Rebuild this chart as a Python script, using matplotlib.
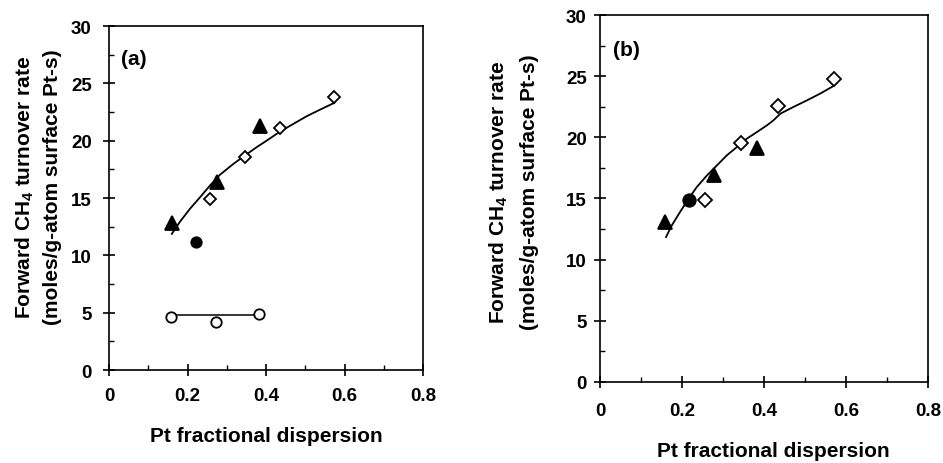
import matplotlib
matplotlib.use("Agg")
import matplotlib.pyplot as plt
from matplotlib.ticker import MultipleLocator

plt.rcParams['font.family'] = ['Liberation Sans', 'DejaVu Sans']
plt.rcParams['font.weight'] = 'bold'
plt.rcParams['mathtext.fontset'] = 'custom'
plt.rcParams['mathtext.rm'] = 'Liberation Sans:bold'
plt.rcParams['mathtext.bf'] = 'Liberation Sans:bold'

# panel (a)
a_tri_x = [0.16, 0.274, 0.385]
a_tri_y = [12.8, 16.4, 21.3]
a_dia_x = [0.257, 0.346, 0.436, 0.574]
a_dia_y = [14.9, 18.55, 21.1, 23.8]
a_dot_x = [0.221]
a_dot_y = [11.2]
a_open_x = [0.158, 0.273, 0.383]
a_open_y = [4.6, 4.16, 4.89]
a_flat_x = [0.16, 0.38]
a_flat_y = [4.8, 4.8]
a_fit_x = [0.160, 0.181, 0.206, 0.232, 0.257, 0.283, 0.317, 0.346, 0.376,
           0.402, 0.436, 0.470, 0.504, 0.538, 0.574]
a_fit_y = [11.87, 12.94, 14.05, 15.07, 16.08, 17.04, 17.98, 18.70, 19.43,
           20.01, 20.80, 21.47, 22.14, 22.71, 23.30]

# panel (b)
b_tri_x = [0.159, 0.277, 0.383]
b_tri_y = [13.1, 16.9, 19.1]
b_dia_x = [0.256, 0.344, 0.434, 0.570]
b_dia_y = [14.84, 19.56, 22.57, 24.8]
b_dot_x = [0.217]
b_dot_y = [14.84]
b_fit_x = [0.161, 0.175, 0.195, 0.216, 0.236, 0.261, 0.285, 0.309, 0.334,
           0.358, 0.383, 0.407, 0.423, 0.440, 0.472, 0.505, 0.537, 0.570]
b_fit_y = [11.84, 12.79, 13.88, 14.98, 15.93, 16.89, 17.70, 18.52, 19.21,
           19.89, 20.44, 20.98, 21.39, 21.94, 22.49, 23.03, 23.58, 24.21]

ylab = 'Forward CH$_\\mathbf{4}$ turnover rate\n(moles/g-atom surface Pt-s)'
xlab = 'Pt fractional dispersion'

fig = plt.figure(figsize=(9.43, 4.64), dpi=100)
ax1 = fig.add_axes([0.1156, 0.2004, 0.333, 0.7414])
ax2 = fig.add_axes([0.6363, 0.1752, 0.3478, 0.790])


def style(ax, xpad, ypad):
    ax.set_xlim(0, 0.8)
    ax.set_ylim(0, 30)
    ax.xaxis.set_major_locator(MultipleLocator(0.2))
    ax.xaxis.set_minor_locator(MultipleLocator(0.1))
    ax.yaxis.set_major_locator(MultipleLocator(5))
    ax.yaxis.set_minor_locator(MultipleLocator(2.5))
    ax.set_xticks([0, 0.2, 0.4, 0.6, 0.8])
    ax.set_xticklabels(['0', '0.2', '0.4', '0.6', '0.8'])
    ax.tick_params(which='major', direction='inout', length=9, width=1.2,
                   labelsize=13.5)
    ax.tick_params(which='minor', direction='in', length=3.5, width=1.0)
    ax.tick_params(axis='x', which='major', pad=xpad)
    ax.tick_params(axis='y', which='major', pad=ypad)
    for s in ax.spines.values():
        s.set_linewidth(1.2)


style(ax1, 8, 8)
style(ax2, 10, 5)

mk = dict(linestyle='none', color='black', mew=1.3)
ax1.plot(a_fit_x, a_fit_y, color='black', lw=1.3)
ax1.plot(a_flat_x, a_flat_y, color='black', lw=1.1)
ax1.plot(a_tri_x, a_tri_y, marker='^', ms=9.5, **mk)
ax1.plot(a_dia_x, a_dia_y, marker='D', ms=6.5, mfc='white', **mk)
ax1.plot(a_dot_x, a_dot_y, marker='o', ms=7.5, **mk)
ax1.plot(a_open_x, a_open_y, marker='o', ms=7.5, mfc='white', **mk)
ax1.text(0.08, 0.905, '(a)', transform=ax1.transAxes, fontsize=15,
         ha='center', va='center', fontweight='bold')

ax2.plot(b_fit_x, b_fit_y, color='black', lw=1.3)
ax2.plot(b_tri_x, b_tri_y, marker='^', ms=10, **mk)
ax2.plot(b_dia_x, b_dia_y, marker='D', ms=7, mfc='white', **mk)
ax2.plot(b_dot_x, b_dot_y, marker='o', ms=9, **mk)
ax2.text(0.079, 0.905, '(b)', transform=ax2.transAxes, fontsize=15,
         ha='center', va='center', fontweight='bold')

fig.text(0.040, 0.597, ylab, rotation=90, ha='center', va='center',
         fontsize=15, fontweight='bold', linespacing=1.45, multialignment='center')
fig.text(0.544, 0.586, ylab, rotation=90, ha='center', va='center',
         fontsize=15, fontweight='bold', linespacing=1.7, multialignment='center')
fig.text(0.2826, 0.060, xlab, ha='center', va='center', fontsize=15,
         fontweight='bold')
fig.text(0.8197, 0.027, xlab, ha='center', va='center', fontsize=15,
         fontweight='bold')

fig.savefig('out.png', dpi=100)
